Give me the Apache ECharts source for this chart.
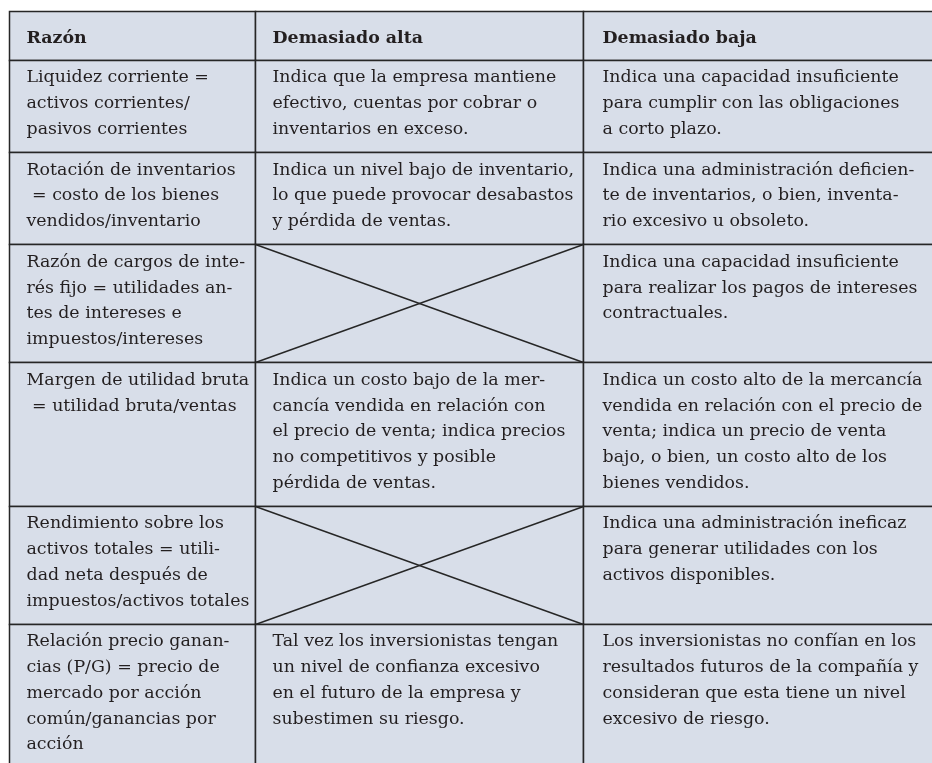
<!DOCTYPE html>
<html>
<head>
<meta charset="utf-8">
<script src="https://cdn.jsdelivr.net/npm/echarts@6/dist/echarts.min.js"></script>
<style>
html,body{margin:0;padding:0;background:#ffffff;}
#chart{width:932px;height:763px;}
</style>
</head>
<body>
<div id="chart"></div>
<script>
// ---- data ----
const headers = ['Razón', 'Demasiado alta', 'Demasiado baja'];
const razon = [
  'Liquidez corriente =\nactivos corrientes/\npasivos corrientes',
  'Rotación de inventarios\n = costo de los bienes\nvendidos/inventario',
  'Razón de cargos de inte-\nrés fijo = utilidades an-\ntes de intereses e\nimpuestos/intereses',
  'Margen de utilidad bruta\n = utilidad bruta/ventas',
  'Rendimiento sobre los\nactivos totales = utili-\ndad neta después de\nimpuestos/activos totales',
  'Relación precio ganan-\ncias (P/G) = precio de\nmercado por acción\ncomún/ganancias por\nacción'
];
const demasiadoAlta = [
  'Indica que la empresa mantiene\nefectivo, cuentas por cobrar o\ninventarios en exceso.',
  'Indica un nivel bajo de inventario,\nlo que puede provocar desabastos\ny pérdida de ventas.',
  null,
  'Indica un costo bajo de la mer-\ncancía vendida en relación con\nel precio de venta; indica precios\nno competitivos y posible\npérdida de ventas.',
  null,
  'Tal vez los inversionistas tengan\nun nivel de confianza excesivo\nen el futuro de la empresa y\nsubestimen su riesgo.'
];
const demasiadoBaja = [
  'Indica una capacidad insuficiente\npara cumplir con las obligaciones\na corto plazo.',
  'Indica una administración deficien-\nte de inventarios, o bien, inventa-\nrio excesivo u obsoleto.',
  'Indica una capacidad insuficiente\npara realizar los pagos de intereses\ncontractuales.',
  'Indica un costo alto de la mercancía\nvendida en relación con el precio de\nventa; indica un precio de venta\nbajo, o bien, un costo alto de los\nbienes vendidos.',
  'Indica una administración ineficaz\npara generar utilidades con los\nactivos disponibles.',
  'Los inversionistas no confían en los\nresultados futuros de la compañía y\nconsideran que esta tiene un nivel\nexcesivo de riesgo.'
];

// ---- layout (not data) ----
const colEdges = [0, 246, 574, 945];           // x-axis units
const HEAD_PAD_TOP = 0.55, HEAD_PAD_BOT = 0.35; // in line units
const ROW_PAD_TOP = 0.2, ROW_PAD_BOT = 0.38;
const FONT_FAMILY = '"DejaVu Serif", "Liberation Serif", serif';
const FONT_SIZE = 17.4;
const LINE_COLOR = '#262626';
const FILL = '#d8dee9';
const TEXT_COLOR = '#231f20';

const columns = [razon, demasiadoAlta, demasiadoBaja];
const nLines = t => (t == null ? 0 : t.split('\n').length);

const rows = [];
let y = 0;
rows.push({ top: y, padTop: HEAD_PAD_TOP, cells: headers, header: true });
y += HEAD_PAD_TOP + 1 + HEAD_PAD_BOT;
rows[0].bottom = y;
for (let r = 0; r < razon.length; r++) {
  const cells = columns.map(c => c[r]);
  const lines = Math.max.apply(null, cells.map(nLines));
  const row = { top: y, padTop: ROW_PAD_TOP, cells: cells, header: false };
  y += ROW_PAD_TOP + lines + ROW_PAD_BOT;
  row.bottom = y;
  rows.push(row);
}
const totalUnits = y;
const LINE_PX = 25.75;

const cellData = [];
rows.forEach((row, r) => row.cells.forEach((_, c) => cellData.push([c, r])));

const chart = echarts.init(document.getElementById('chart'), null, { renderer: 'canvas' });
chart.setOption({
  animation: false,
  backgroundColor: '#ffffff',
  grid: { left: 9, top: 11, width: 945, height: totalUnits * LINE_PX, outerBoundsMode: 'none', containLabel: false },
  xAxis: { type: 'value', min: 0, max: 945, show: false },
  yAxis: { type: 'value', min: 0, max: totalUnits, inverse: true, show: false },
  series: [{
    type: 'custom',
    clip: false,
    data: cellData,
    renderItem: function (params, api) {
      const c = api.value(0), r = api.value(1);
      const row = rows[r];
      const p0 = api.coord([colEdges[c], row.top]);
      const p1 = api.coord([colEdges[c + 1], row.bottom]);
      const unit = api.coord([0, 1])[1] - api.coord([0, 0])[1];
      const x0 = Math.round(p0[0]) + 0.5, y0 = Math.round(p0[1]) + 0.5;
      const x1 = Math.round(p1[0]) + 0.5, y1 = Math.round(p1[1]) + 0.5;
      const children = [{
        type: 'rect',
        shape: { x: x0, y: y0, width: x1 - x0, height: y1 - y0 },
        style: { fill: FILL, stroke: LINE_COLOR, lineWidth: 1.5 }
      }];
      const txt = row.cells[c];
      if (txt == null) {
        children.push({ type: 'line', shape: { x1: x0, y1: y0, x2: x1, y2: y1 }, style: { stroke: LINE_COLOR, lineWidth: 1.4 } });
        children.push({ type: 'line', shape: { x1: x0, y1: y1, x2: x1, y2: y0 }, style: { stroke: LINE_COLOR, lineWidth: 1.4 } });
      } else {
        children.push({
          type: 'text',
          style: {
            text: txt,
            x: x0 + (c === 2 ? 19 : 17),
            y: p0[1] + row.padTop * unit,
            verticalAlign: 'top',
            align: 'left',
            fill: TEXT_COLOR,
            fontFamily: FONT_FAMILY,
            fontSize: FONT_SIZE,
            fontWeight: row.header ? 'bold' : 'normal',
            lineHeight: unit
          }
        });
      }
      return { type: 'group', children: children };
    }
  }]
});
</script>
</body>
</html>
